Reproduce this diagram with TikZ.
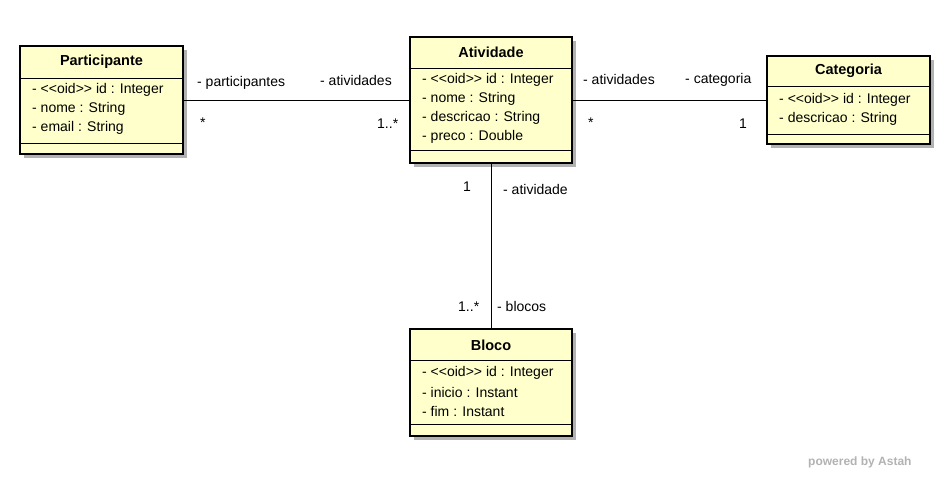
\documentclass[tikz,border=0pt]{standalone}
\usepackage{fontspec}
\setmainfont{Liberation Sans}
\usetikzlibrary{positioning,calc}
\definecolor{clsfill}{RGB}{255,255,204}
\newcommand{\oid}{<\kern0pt<oid>\kern0pt>}
\tikzset{
    cls/.style={draw,line width=1.4pt,fill=clsfill,inner sep=0pt},
    shade/.style={fill=black!30,draw=none},
    ttl/.style={font=\fontsize{14.5}{16}\selectfont\bfseries,inner sep=0pt},
    attr/.style={font=\fontsize{14}{16}\selectfont,inner sep=0pt,anchor=west},
    lbl/.style={font=\fontsize{14}{16}\selectfont,inner sep=0pt,anchor=west},
    assoc/.style={line width=0.6pt}
}
\begin{document}
\begin{tikzpicture}[x=1pt,y=-1pt]
    \useasboundingbox (0,0) rectangle (944,479);

    % shadows
    \fill[shade] (24,50) rectangle (187,158);
    \fill[shade] (414,41) rectangle (576,167);
    \fill[shade] (771,60) rectangle (934,148);
    \fill[shade] (414,333) rectangle (576,440);

    % classes
    \node[cls,minimum width=163pt,minimum height=108pt] (part) at (101.5,100) {};
    \node[cls,minimum width=162pt,minimum height=126pt] (ativ) at (491,100) {};
    \node[cls,minimum width=163pt,minimum height=88pt] (cat) at (848.5,100) {};
    \node[cls,minimum width=162pt,minimum height=107pt] (bloco) at (491,382.5) {};

    % Participante
    \node[ttl] (partT) at (101.5,62) {Participante};
    \draw[line width=0.6pt] (20,78) -- (183,78) (20,143) -- (183,143);
    \node[attr] (part1) at (32,90) {- \oid\ id : Integer};
    \node[attr] (part2) at (32,109) {- nome : String};
    \node[attr] (part3) at (32,128) {- email : String};

    % Atividade
    \node[ttl] (ativT) at (491,52) {Atividade};
    \draw[line width=0.6pt] (410,68) -- (572,68) (410,150) -- (572,150);
    \node[attr] (ativ1) at (422,80) {- \oid\ id : Integer};
    \node[attr] (ativ2) at (422,99) {- nome : String};
    \node[attr] (ativ3) at (422,118) {- descricao : String};
    \node[attr] (ativ4) at (422,137) {- preco : Double};

    % Categoria
    \node[ttl] (catT) at (848.5,71) {Categoria};
    \draw[line width=0.6pt] (767,86) -- (930,86) (767,134) -- (930,134);
    \node[attr] (cat1) at (779,100) {- \oid\ id : Integer};
    \node[attr] (cat2) at (779,119) {- descricao : String};

    % Bloco
    \node[ttl] (blocoT) at (491,345) {Bloco};
    \draw[line width=0.6pt] (410,360) -- (572,360) (410,424) -- (572,424);
    \node[attr] (bloco1) at (422,373) {- \oid\ id : Integer};
    \node[attr] (bloco2) at (422,392) {- inicio : Instant};
    \node[attr] (bloco3) at (422,411) {- fim : Instant};

    % associations
    \draw[assoc] (part.east) -- (ativ.west);
    \draw[assoc] (ativ.east) -- (cat.west);
    \draw[assoc] (ativ.south) -- (bloco.north);

    \node[lbl] at (197,83) {- participantes};
    \node[lbl] at (200,123) {*};
    \node[lbl] at (320,80) {- atividades};
    \node[lbl] at (377,124) {1..*};
    \node[lbl] at (583,79) {- atividades};
    \node[lbl] at (588,123) {*};
    \node[lbl] at (685,80) {- categoria};
    \node[lbl] at (739,124) {1};
    \node[lbl] at (463,187) {1};
    \node[lbl] at (503,189) {- atividade};
    \node[lbl] at (458,307) {1..*};
    \node[lbl] at (497,306) {- blocos};

    \node[lbl,text=black!30,font=\fontsize{12}{14}\selectfont\bfseries] at (808,462) {powered by Astah};
\end{tikzpicture}
\end{document}
